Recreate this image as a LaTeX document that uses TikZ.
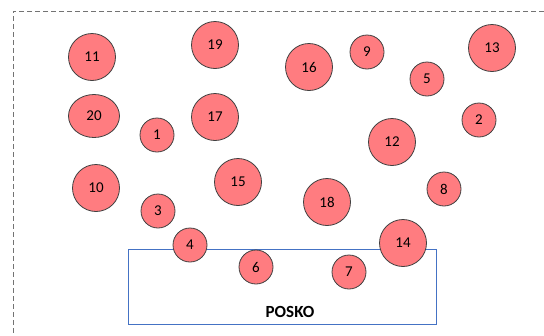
\documentclass[tikz,border=0pt]{standalone}
\usepackage{fontspec}
\setmainfont{Carlito}
\usepackage{xcolor}
\usetikzlibrary{shapes.geometric}

\definecolor{spotred}{HTML}{FF7C80}
\definecolor{edgegray}{HTML}{404040}
\definecolor{poskoblue}{HTML}{4472C4}

\begin{document}
\begin{tikzpicture}[x=1pt,y=-1pt,
  spot/.style={circle,draw=edgegray,line width=0.8pt,fill=spotred,inner sep=0pt,font=\fontsize{15}{16}\selectfont},
  bigspot/.style={spot,minimum size=47pt},
  smallspot/.style={spot,minimum size=34pt}]
\useasboundingbox (0,0) rectangle (544,335);
\draw[gray!90!black,line width=0.8pt,dash pattern=on 5pt off 3pt] (544,11) -- (13,11) -- (13,335);
\draw[poskoblue,line width=0.8pt] (128,249) rectangle (436,324);
\node[font=\fontsize{17}{18}\selectfont\bfseries] (posko) at (290,312) {POSKO};
\node[bigspot] (s11) at (92,57) {11};
\node[bigspot] (s19) at (215,45) {19};
\node[spot,ellipse,minimum width=51pt,minimum height=43pt] (s20) at (94,116) {20};
\node[bigspot] (s17) at (215,117) {17};
\node[smallspot] (s1) at (157,135) {1};
\node[bigspot] (s16) at (309,67) {16};
\node[smallspot] (s9) at (367,52) {9};
\node[smallspot] (s5) at (427,79) {5};
\node[bigspot] (s13) at (492,48) {13};
\node[smallspot] (s2) at (479,120) {2};
\node[bigspot] (s12) at (392,142) {12};
\node[bigspot] (s10) at (96,188) {10};
\node[smallspot] (s3) at (158,211) {3};
\node[smallspot] (s4) at (190,245) {4};
\node[smallspot] (s6) at (256,267) {6};
\node[bigspot] (s15) at (238,182) {15};
\node[bigspot] (s18) at (327,202) {18};
\node[smallspot] (s8) at (444,189) {8};
\node[bigspot] (s14) at (403,243) {14};
\node[smallspot] (s7) at (349,272) {7};
\end{tikzpicture}
\end{document}
